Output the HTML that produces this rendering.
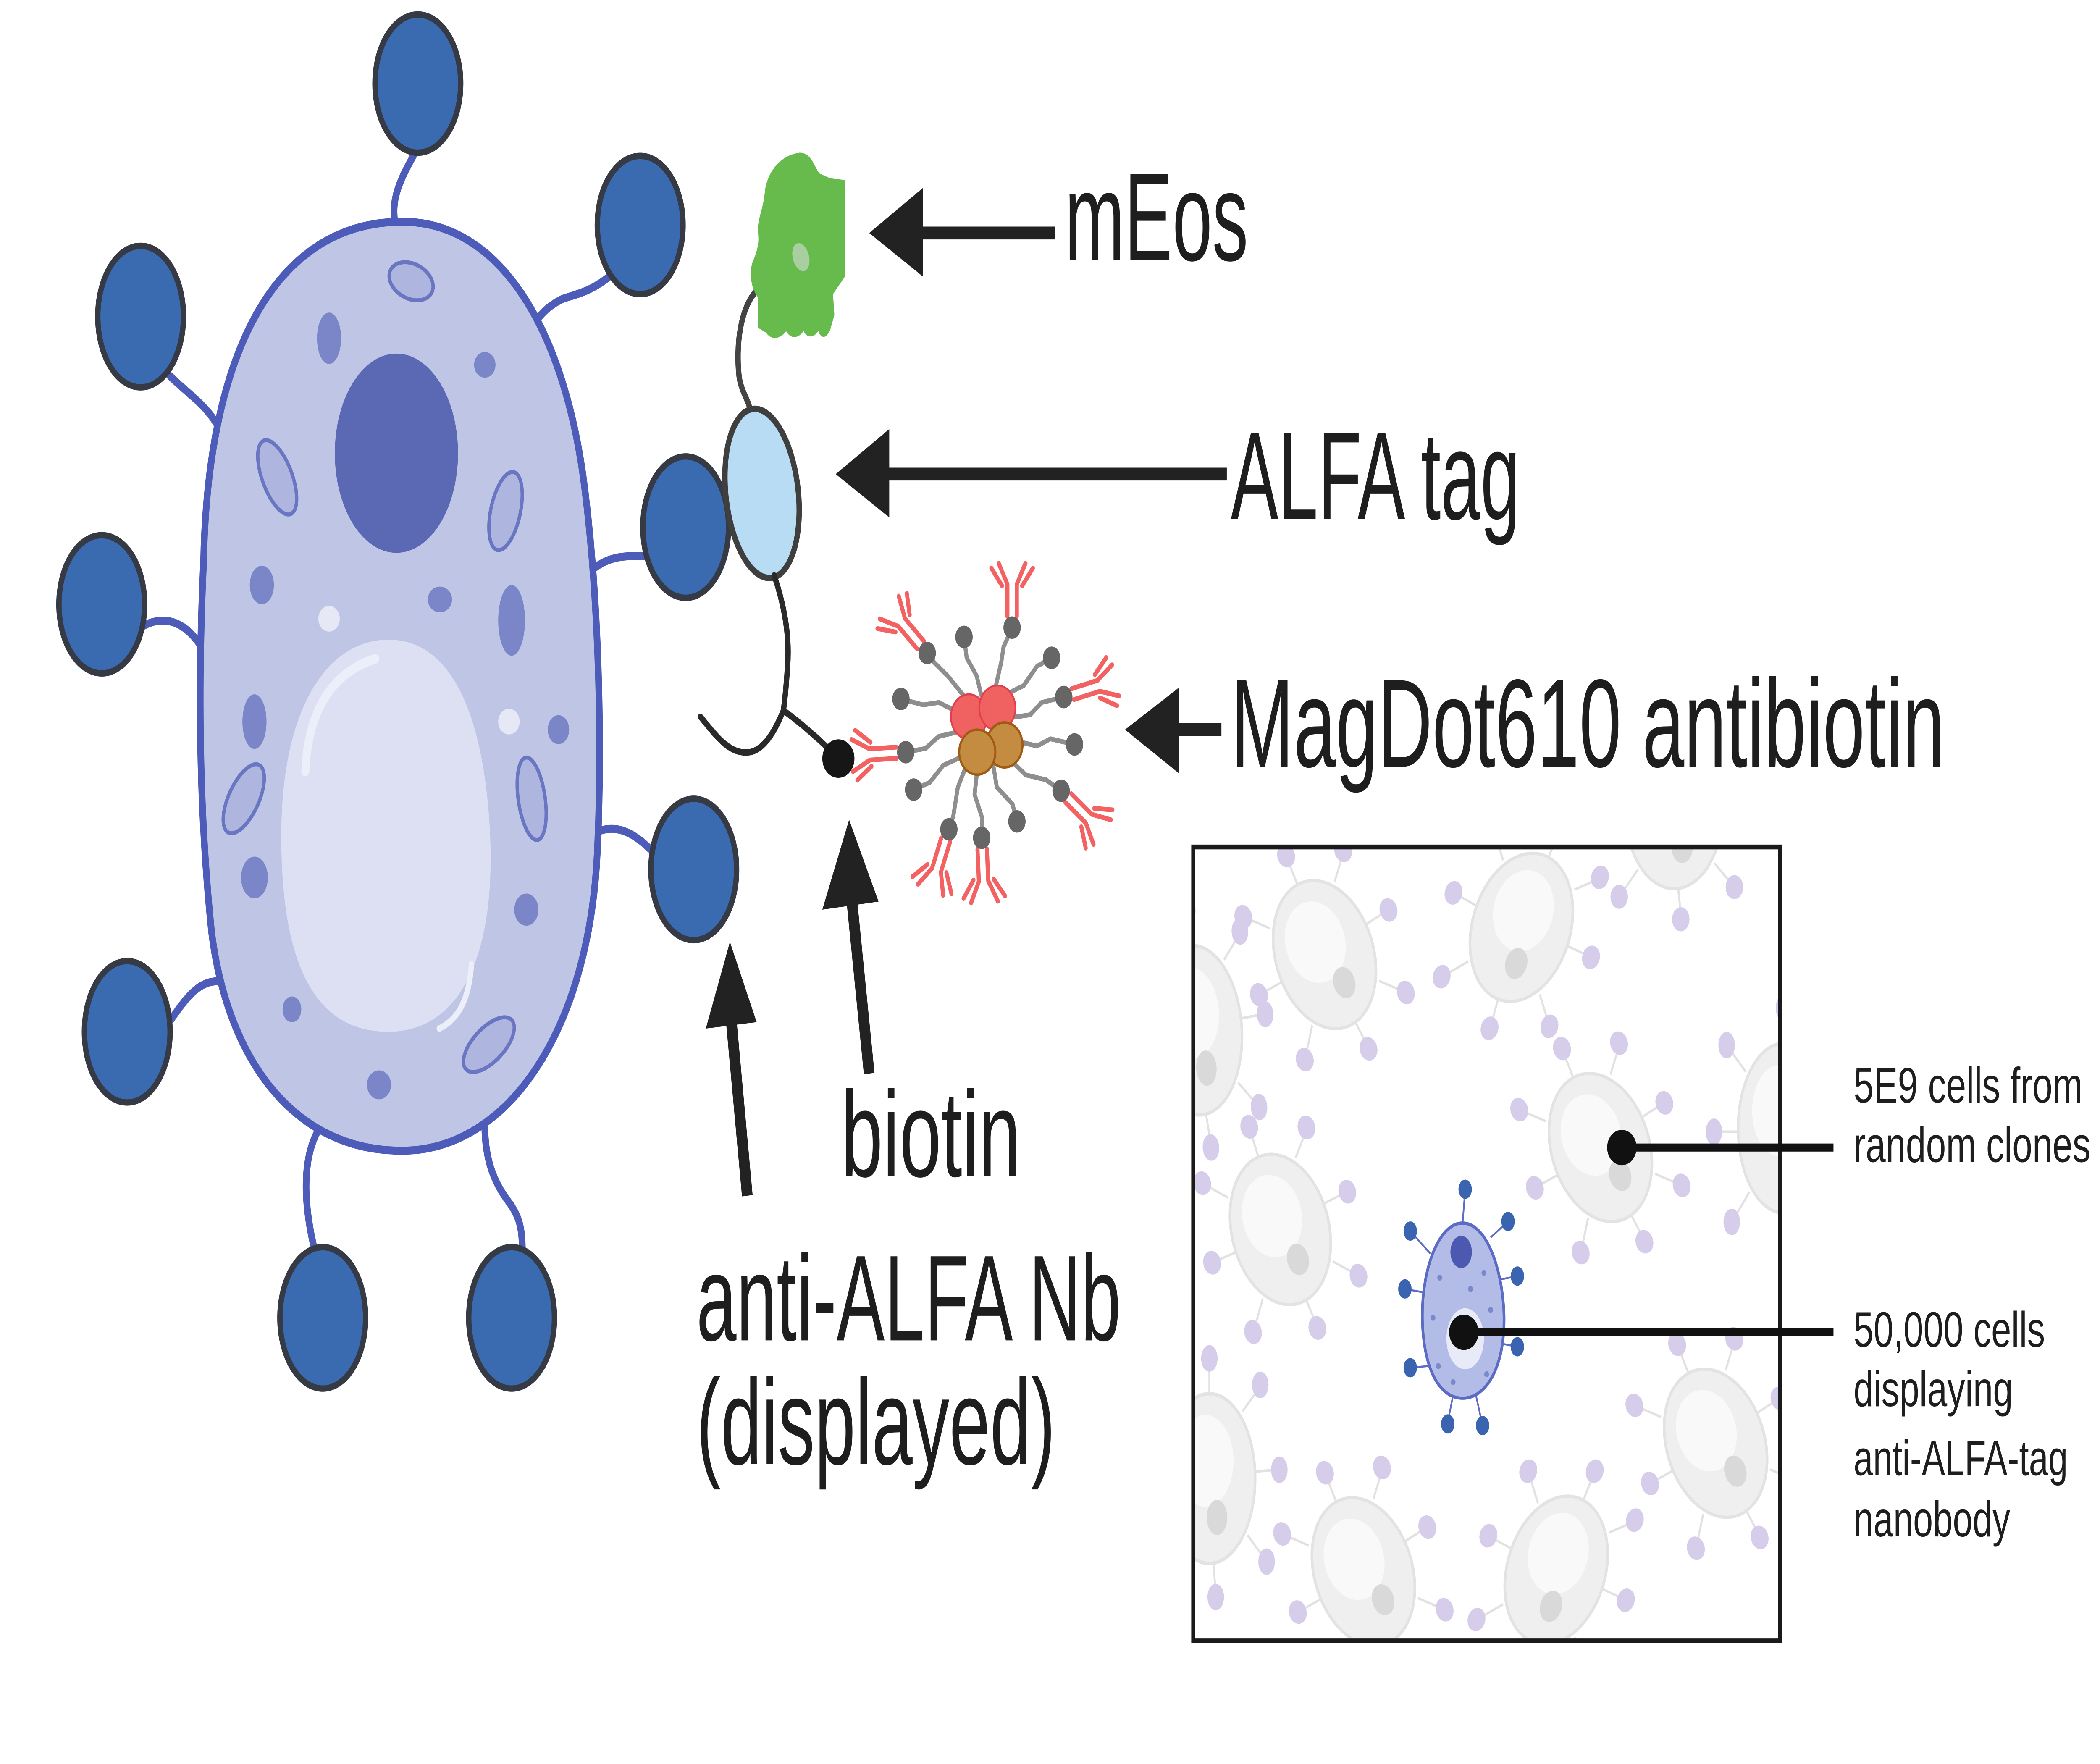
<!DOCTYPE html>
<html><head><meta charset="utf-8"><style>
html,body{margin:0;padding:0;background:#fff;overflow:hidden;}
svg{display:block;width:100vw;height:100vh;}
text{font-family:"Liberation Sans",sans-serif;fill:#1e1e1e;}
</style></head><body>
<svg viewBox="0 0 1568 1097.6" preserveAspectRatio="none" xmlns="http://www.w3.org/2000/svg">
<defs>
<g id="gc">
  <g stroke="#e2e2e2" stroke-width="1.5">
    <line x1="0" y1="-47" x2="0" y2="-66"/><line x1="26" y1="-38" x2="40" y2="-52"/>
    <line x1="36" y1="-4" x2="53" y2="-5"/><line x1="30" y1="32" x2="44" y2="46"/>
    <line x1="3" y1="47" x2="5" y2="64"/><line x1="-27" y1="36" x2="-40" y2="52"/>
    <line x1="-36" y1="2" x2="-53" y2="2"/><line x1="-30" y1="-32" x2="-44" y2="-46"/>
  </g>
  <g fill="#d6cdea">
    <ellipse cx="0" cy="-68" rx="6.5" ry="7.5"/><ellipse cx="40" cy="-53" rx="6.5" ry="7.5"/>
    <ellipse cx="55" cy="-5" rx="6.5" ry="7.5"/><ellipse cx="45" cy="47" rx="6.5" ry="7.5"/>
    <ellipse cx="5" cy="67" rx="6.5" ry="7.5"/><ellipse cx="-41" cy="53" rx="6.5" ry="7.5"/>
    <ellipse cx="-55" cy="2" rx="6.5" ry="7.5"/><ellipse cx="-45" cy="-47" rx="6.5" ry="7.5"/>
  </g>
  <ellipse cx="0" cy="0" rx="36" ry="48" fill="#efefef" stroke="#e3e3e3" stroke-width="2"/>
  <ellipse cx="-3" cy="-10" rx="22" ry="26" fill="#f9f9f9"/>
  <ellipse cx="6" cy="22" rx="8" ry="10" fill="#d9d9d9"/>
</g>
<g id="ab" fill="none" stroke="#f26262" stroke-width="3" stroke-linecap="round" stroke-linejoin="round">
  <path d="M -3.5 -7 V -27 L -10 -40"/>
  <path d="M 3.5 -7 V -27 L 10 -40"/>
  <path d="M -7.5 -26 L -15.5 -37"/>
  <path d="M 7.5 -26 L 15.5 -37"/>
</g>
<clipPath id="boxclip"><rect x="892" y="528" width="436" height="492"/></clipPath>
</defs>

<!-- ===== Big cell stems ===== -->
<g fill="none" stroke="#4d5cb8" stroke-width="5" stroke-linecap="round">
  <path d="M 310 95 C 300 110 290 125 296 142"/>
  <path d="M 455 172 C 440 182 430 183 420 186 C 410 190 402 196 397 205"/>
  <path d="M 127 234 C 140 245 160 255 166 272"/>
  <path d="M 440 356 C 455 345 468 346 482 346"/>
  <path d="M 106 390 C 118 384 135 383 150 402"/>
  <path d="M 445 518 C 455 514 468 514 485 528"/>
  <path d="M 128 634 C 140 620 150 608 168 611"/>
  <path d="M 240 700 C 228 715 224 740 235 778"/>
  <path d="M 362 700 C 362 720 368 735 380 748 C 388 757 390 765 390 778"/>
</g>

<!-- Big cell body -->
<path d="M 297 138 C 370 136 420 200 436 300 C 447 370 450 460 446 530 C 440 640 380 716 300 716 C 220 716 170 660 158 580 C 148 500 148 420 152 350 C 155 220 205 140 297 138 Z" fill="#bec5e5" stroke="#4d5cb8" stroke-width="5"/>
<!-- nucleus -->
<ellipse cx="296" cy="282" rx="46" ry="62" fill="#5b68b4"/>
<!-- vacuole -->
<path d="M 290 398 C 340 398 362 450 366 520 C 370 600 340 642 290 642 C 235 642 210 600 210 520 C 210 440 245 398 290 398 Z" fill="#dce0f2"/>
<path d="M 228 480 C 230 440 250 418 280 410" fill="none" stroke="#eceefa" stroke-width="6" stroke-linecap="round"/>
<path d="M 352 600 C 350 625 340 635 328 640" fill="none" stroke="#eceefa" stroke-width="4" stroke-linecap="round"/>
<!-- organelles -->
<g fill="#7b86c8">
  <ellipse cx="245.7" cy="210.5" rx="9" ry="16"/>
  <ellipse cx="362" cy="227" rx="8" ry="8"/>
  <ellipse cx="195.5" cy="364" rx="9" ry="12"/>
  <ellipse cx="328.5" cy="373" rx="9" ry="8"/>
  <ellipse cx="382" cy="386" rx="10" ry="22"/>
  <ellipse cx="190" cy="449" rx="9" ry="17"/>
  <ellipse cx="417" cy="454" rx="8" ry="9"/>
  <ellipse cx="190" cy="546" rx="10" ry="13"/>
  <ellipse cx="393" cy="566" rx="9" ry="10"/>
  <ellipse cx="218" cy="628" rx="7" ry="8"/>
  <ellipse cx="283" cy="675" rx="9" ry="9"/>
</g>
<g fill="#aeb6df" stroke="#6a76c2" stroke-width="2.5">
  <ellipse cx="307" cy="175" rx="17" ry="11" transform="rotate(20 307 175)"/>
  <ellipse cx="207" cy="297" rx="11" ry="25" transform="rotate(-25 207 297)"/>
  <ellipse cx="377.5" cy="318" rx="11" ry="25" transform="rotate(15 377.5 318)"/>
  <ellipse cx="182" cy="497" rx="11" ry="24" transform="rotate(30 182 497)"/>
  <ellipse cx="397" cy="497" rx="10" ry="26" transform="rotate(-10 397 497)"/>
  <ellipse cx="365" cy="650" rx="11" ry="23" transform="rotate(50 365 650)"/>
</g>
<g fill="#e6e8f6">
  <circle cx="245.7" cy="385" r="8"/>
  <circle cx="380" cy="449" r="8"/>
</g>

<!-- Blue balls -->
<g fill="#3a6ab0" stroke="#363a44" stroke-width="4">
  <ellipse cx="312" cy="52" rx="32" ry="43"/>
  <ellipse cx="478" cy="140" rx="32" ry="43"/>
  <ellipse cx="105" cy="197" rx="32" ry="44"/>
  <ellipse cx="512" cy="328" rx="32" ry="44"/>
  <ellipse cx="76" cy="376" rx="32" ry="43"/>
  <ellipse cx="518" cy="541" rx="32" ry="44"/>
  <ellipse cx="95" cy="642" rx="32" ry="44"/>
  <ellipse cx="241" cy="820" rx="32" ry="44"/>
  <ellipse cx="382" cy="820" rx="32" ry="44"/>
</g>

<!-- mEos -> ALFA linker -->
<path d="M 566 180 C 553 190 549 215 552 235 C 554 245 560 250 560 256" fill="none" stroke="#444" stroke-width="4"/>
<!-- green mEos -->
<path d="M 597 95 C 606 95 608 104 612 108 L 620 111 L 631 112 L 631 172 L 626 178 L 622 183 L 623 196 L 620 205 C 617 211 613 211 611 206 C 608 210 603 211 600 206 C 596 211 590 211 587 206 C 583 211 576 212 572 207 L 566 204 L 566 185 C 561 180 559 170 562 163 C 565 157 567 152 566 145 C 565 137 570 130 571 120 C 572 110 580 97 597 95 Z" fill="#66bb4c"/>
<ellipse cx="598" cy="160" rx="6" ry="9" fill="#a9cfa0" transform="rotate(-20 598 160)"/>
<!-- ALFA tag -->
<ellipse cx="569" cy="307" rx="27" ry="53" fill="#b8dcf4" stroke="#3f3f3f" stroke-width="4" transform="rotate(-8 569 307)"/>
<!-- linker + Y -->
<g fill="none" stroke="#2a2a2a" stroke-width="4" stroke-linecap="round">
  <path d="M 578 358 C 585 375 590 395 588 415 C 587 428 586 435 585 442"/>
  <path d="M 523 446 C 535 458 545 470 560 468 C 572 466 580 452 585 442"/>
  <path d="M 585 442 C 598 450 612 460 626 472"/>
</g>
<circle cx="626" cy="472" r="12" fill="#161616"/>

<!-- MagDot stalks -->
<g fill="none" stroke="#8e8e8e" stroke-width="3" stroke-linecap="round" stroke-linejoin="round">
  <polyline points="743.5,427 747.7,411.6 749.3,402.6 755.7,390.5"/>
  <polyline points="732.7,432.6 729.3,420.6 721.8,409.3 719.8,396.3"/>
  <polyline points="719.3,432.6 707.7,420.6 697.7,412.3 692.3,406.3"/>
  <polyline points="753.5,431.1 764.3,426.6 774.3,414.6 785.2,409.3"/>
  <polyline points="711.8,441.7 701,437.1 689.3,438.6 672.7,434.9"/>
  <polyline points="757.7,446.2 769.3,444.7 777.7,437.1 794.3,433.7"/>
  <polyline points="712.7,455.9 701,458.2 691,465.7 676.3,468"/>
  <polyline points="763.5,462 774.3,464.2 784.3,459.7 802.3,463.2"/>
  <polyline points="716,471.7 704.3,476.2 694.3,486.8 682.2,491.3"/>
  <polyline points="757.7,475.5 766,482.2 781,485.2 792.3,492"/>
  <polyline points="720.2,479.2 715.2,489.8 711.8,507.8 708.5,516"/>
  <polyline points="729.3,482.2 727.7,494.3 733.5,509.3 733,521.3"/>
  <polyline points="741.8,477 744.3,489.8 756,500.3 759.3,511.1"/>
</g>
<!-- antibodies -->
<use href="#ab" transform="translate(755.7 390.5) rotate(0)"/>
<use href="#ab" transform="translate(692.3 406.3) rotate(-45)"/>
<use href="#ab" transform="translate(794.3 433.7) rotate(75)"/>
<use href="#ab" transform="translate(676.3 468) rotate(-93)"/>
<use href="#ab" transform="translate(792.3 492) rotate(130)"/>
<use href="#ab" transform="translate(708.5 516) rotate(200)"/>
<use href="#ab" transform="translate(733 521.3) rotate(177)"/>
<!-- gray balls -->
<g fill="#666">
  <ellipse cx="755.7" cy="390.5" rx="6.5" ry="7"/>
  <ellipse cx="719.8" cy="396.3" rx="6.5" ry="7"/>
  <ellipse cx="692.3" cy="406.3" rx="6.5" ry="7"/>
  <ellipse cx="785.2" cy="409.3" rx="6.5" ry="7"/>
  <ellipse cx="672.7" cy="434.9" rx="6.5" ry="7"/>
  <ellipse cx="794.3" cy="433.7" rx="6.5" ry="7"/>
  <ellipse cx="676.3" cy="468" rx="6.5" ry="7"/>
  <ellipse cx="802.3" cy="463.2" rx="6.5" ry="7"/>
  <ellipse cx="682.2" cy="491.3" rx="6.5" ry="7"/>
  <ellipse cx="792.3" cy="492" rx="6.5" ry="7"/>
  <ellipse cx="708.5" cy="516" rx="6.5" ry="7"/>
  <ellipse cx="733" cy="521.3" rx="6.5" ry="7"/>
  <ellipse cx="759.3" cy="511.1" rx="6.5" ry="7"/>
</g>
<!-- core -->
<ellipse cx="723.5" cy="446" rx="13.5" ry="14" fill="#f06262" stroke="#e0404e" stroke-width="1.2"/>
<ellipse cx="744.7" cy="440.5" rx="13.5" ry="14" fill="#f06262" stroke="#e0404e" stroke-width="1.2"/>
<ellipse cx="750" cy="463.5" rx="13.5" ry="14" fill="#c38c40" stroke="#a05a14" stroke-width="1.5"/>
<ellipse cx="729.7" cy="468" rx="13.5" ry="14" fill="#c38c40" stroke="#a05a14" stroke-width="1.5"/>

<!-- Arrows -->
<g fill="#222">
  <polygon points="649,145 689,117 689,172"/>
  <polygon points="624,295 664,267 664,322"/>
  <polygon points="840,454 880,428 880,481"/>
  <polygon points="634,510 614,566 656,561"/>
  <polygon points="545,586 527,640 565,636"/>
</g>
<g stroke="#222" stroke-width="8" stroke-linecap="butt">
  <line x1="685" y1="145" x2="788" y2="145"/>
  <line x1="660" y1="295" x2="916" y2="295"/>
  <line x1="876" y1="454" x2="912" y2="454"/>
  <line x1="636" y1="560" x2="649" y2="668"/>
  <line x1="546" y1="635" x2="558" y2="744"/>
</g>

<!-- Labels -->
<text x="795" y="162" font-size="78" textLength="137" lengthAdjust="spacingAndGlyphs">mEos</text>
<text x="919" y="323" font-size="78" textLength="216" lengthAdjust="spacingAndGlyphs">ALFA tag</text>
<text x="919" y="477" font-size="78" textLength="533" lengthAdjust="spacingAndGlyphs">MagDot610 antibiotin</text>
<text x="628" y="732" font-size="76" textLength="134" lengthAdjust="spacingAndGlyphs">biotin</text>
<text x="520" y="834" font-size="76" textLength="317" lengthAdjust="spacingAndGlyphs">anti-ALFA Nb</text>
<text x="520" y="911" font-size="76" textLength="268" lengthAdjust="spacingAndGlyphs">(displayed)</text>

<!-- ===== Right box ===== -->
<g clip-path="url(#boxclip)">
  <use href="#gc" transform="translate(893 641) rotate(-5) scale(0.95 1.1)"/>
  <use href="#gc" transform="translate(989 594) rotate(-25)"/>
  <use href="#gc" transform="translate(1136 577) rotate(25)"/>
  <use href="#gc" transform="translate(1250 505) rotate(0)"/>
  <use href="#gc" transform="translate(956 765) rotate(-20)"/>
  <use href="#gc" transform="translate(1195 714) rotate(-25)"/>
  <use href="#gc" transform="translate(1332 702) rotate(0) scale(0.95 1.1)"/>
  <use href="#gc" transform="translate(1281 898) rotate(-25)"/>
  <use href="#gc" transform="translate(903 920) rotate(0) scale(0.95 1.1)"/>
  <use href="#gc" transform="translate(1018 978) rotate(-25)"/>
  <use href="#gc" transform="translate(1162 977) rotate(25)"/>

  <!-- blue cell -->
  <g stroke="#5c6cc4" stroke-width="1.2">
    <line x1="1092" y1="762" x2="1094" y2="740"/><line x1="1113" y1="770" x2="1126" y2="760"/>
    <line x1="1068" y1="780" x2="1053" y2="766"/><line x1="1121" y1="796" x2="1133" y2="794"/>
    <line x1="1062" y1="804" x2="1049" y2="802"/><line x1="1121" y1="836" x2="1133" y2="838"/>
    <line x1="1066" y1="850" x2="1053" y2="851"/><line x1="1085" y1="868" x2="1081" y2="885"/>
    <line x1="1102" y1="868" x2="1107" y2="887"/>
  </g>
  <path d="M 1092 761 C 1110 761 1122 790 1123 818 C 1124 850 1110 870 1092 870 C 1074 870 1062 850 1062 818 C 1062 790 1074 761 1092 761 Z" fill="#b2bce6" stroke="#5c6cc4" stroke-width="2"/>
  <ellipse cx="1091" cy="779" rx="8" ry="10" fill="#4d58b0"/>
  <ellipse cx="1094" cy="833" rx="14" ry="19" fill="#e8eaf7"/>
  <g fill="#7c88cc">
    <circle cx="1075" cy="795" r="1.8"/><circle cx="1108" cy="792" r="1.8"/><circle cx="1070" cy="820" r="1.8"/>
    <circle cx="1113" cy="815" r="1.8"/><circle cx="1074" cy="850" r="1.8"/><circle cx="1110" cy="855" r="1.8"/>
    <circle cx="1098" cy="802" r="1.8"/><circle cx="1085" cy="860" r="1.8"/>
  </g>
  <g fill="#3b64b0">
    <ellipse cx="1094" cy="740" rx="5" ry="6"/><ellipse cx="1126" cy="760" rx="5" ry="6"/>
    <ellipse cx="1053" cy="766" rx="5" ry="6"/><ellipse cx="1133" cy="794" rx="5" ry="6"/>
    <ellipse cx="1049" cy="802" rx="5" ry="6"/><ellipse cx="1133" cy="838" rx="5" ry="6"/>
    <ellipse cx="1053" cy="851" rx="5" ry="6"/><ellipse cx="1081" cy="886" rx="5" ry="6"/>
    <ellipse cx="1107" cy="887" rx="5" ry="6"/>
  </g>
</g>
<rect x="891" y="527" width="438" height="494" fill="none" stroke="#1a1a1a" stroke-width="3"/>

<!-- connectors -->
<line x1="1211" y1="714" x2="1369" y2="714" stroke="#111" stroke-width="5"/>
<circle cx="1211" cy="714" r="11" fill="#111"/>
<line x1="1093" y1="829" x2="1369" y2="829" stroke="#111" stroke-width="5"/>
<circle cx="1093" cy="829" r="11" fill="#111"/>

<text x="1384" y="686" font-size="31" textLength="171" lengthAdjust="spacingAndGlyphs">5E9 cells from</text>
<text x="1384" y="723" font-size="31" textLength="177" lengthAdjust="spacingAndGlyphs">random clones</text>
<text x="1384" y="838" font-size="31" textLength="143" lengthAdjust="spacingAndGlyphs">50,000 cells</text>
<text x="1384" y="875" font-size="31" textLength="119" lengthAdjust="spacingAndGlyphs">displaying</text>
<text x="1384" y="918" font-size="31" textLength="160" lengthAdjust="spacingAndGlyphs">anti-ALFA-tag</text>
<text x="1384" y="956" font-size="31" textLength="117" lengthAdjust="spacingAndGlyphs">nanobody</text>
</svg>
</body></html>
